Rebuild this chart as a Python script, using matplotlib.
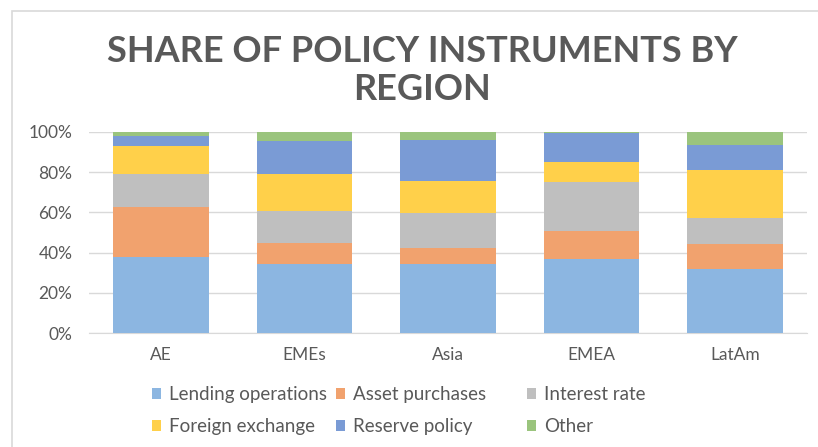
import matplotlib
matplotlib.use('Agg')
import matplotlib.pyplot as plt
from matplotlib.patches import Rectangle
from matplotlib.ticker import PercentFormatter
import numpy as np

# дані (частки у %)
regions = ['AE', 'EMEs', 'Asia', 'EMEA', 'LatAm']
lending = [37.7, 34.4, 34.4, 36.7, 31.7]
asset = [24.9, 10.2, 8.1, 13.9, 12.6]
interest = [16.4, 16.2, 17.0, 24.3, 13.1]
fx = [13.7, 18.2, 16.2, 9.9, 23.4]
reserve = [5.2, 16.2, 20.3, 14.7, 12.6]
other = [2.1, 4.8, 4.0, 0.5, 6.6]

series = [
    ('Lending operations', lending, '#8cb6e1'),
    ('Asset purchases', asset, '#f1a26e'),
    ('Interest rate', interest, '#bfbfbf'),
    ('Foreign exchange', fx, '#ffd04a'),
    ('Reserve policy', reserve, '#7a9bd5'),
    ('Other', other, '#9ac47d'),
]

plt.rcParams['font.family'] = ['Lato', 'DejaVu Sans']
text_col = '#595959'

fig = plt.figure(figsize=(8.18, 4.47), dpi=100)
ax = fig.add_axes([0.109, 0.2544, 0.877, 0.451])

# рамка області діаграми
fig.patches.append(Rectangle((12 / 818, -0.05), 1.1, 1 - 11 / 447 + 0.05,
                             transform=fig.transFigure, fill=False,
                             edgecolor='#d9d9d9', lw=1.2))

x = np.arange(len(regions))
bottom = np.zeros(len(regions))
handles = []
for name, vals, col in series:
    b = ax.bar(x, vals, 0.666, bottom=bottom, color=col, label=name, zorder=3)
    handles.append(b)
    bottom += np.array(vals)

ax.set_ylim(0, 100)
ax.set_xlim(-0.5, len(regions) - 0.5)
ax.set_yticks(range(0, 101, 20))
ax.yaxis.set_major_formatter(PercentFormatter(decimals=0))
ax.set_xticks(x)
ax.set_xticklabels(regions)
ax.tick_params(length=0, colors=text_col, labelsize=12.5)
ax.tick_params(axis='x', pad=10)
ax.tick_params(axis='y', pad=12)
ax.grid(axis='y', color='#d9d9d9', lw=1, zorder=0)
for s in ['top', 'right', 'left']:
    ax.spines[s].set_visible(False)
ax.spines['bottom'].set_color('#d9d9d9')

fig.text(0.516, 0.842, 'SHARE OF POLICY INSTRUMENTS BY\nREGION', ha='center', va='center',
         fontsize=26, fontweight='bold', color=text_col, linespacing=1.2)

# легенда: три стовпці, кожен окремо, щоб збігались позиції
col_x = [152, 336, 527]
for j, cx in enumerate(col_x):
    idx = [j, j + 3]
    leg = fig.legend([handles[i] for i in idx], [series[i][0] for i in idx],
                     loc='upper left', bbox_to_anchor=(cx / 818, 1 - 386 / 447),
                     frameon=False, borderpad=0, borderaxespad=0,
                     fontsize=13.5, handlelength=0.5, handleheight=0.5, handletextpad=0.4,
                     labelspacing=0.8)
    for t in leg.get_texts():
        t.set_color(text_col)

fig.savefig('out.png', dpi=100)
